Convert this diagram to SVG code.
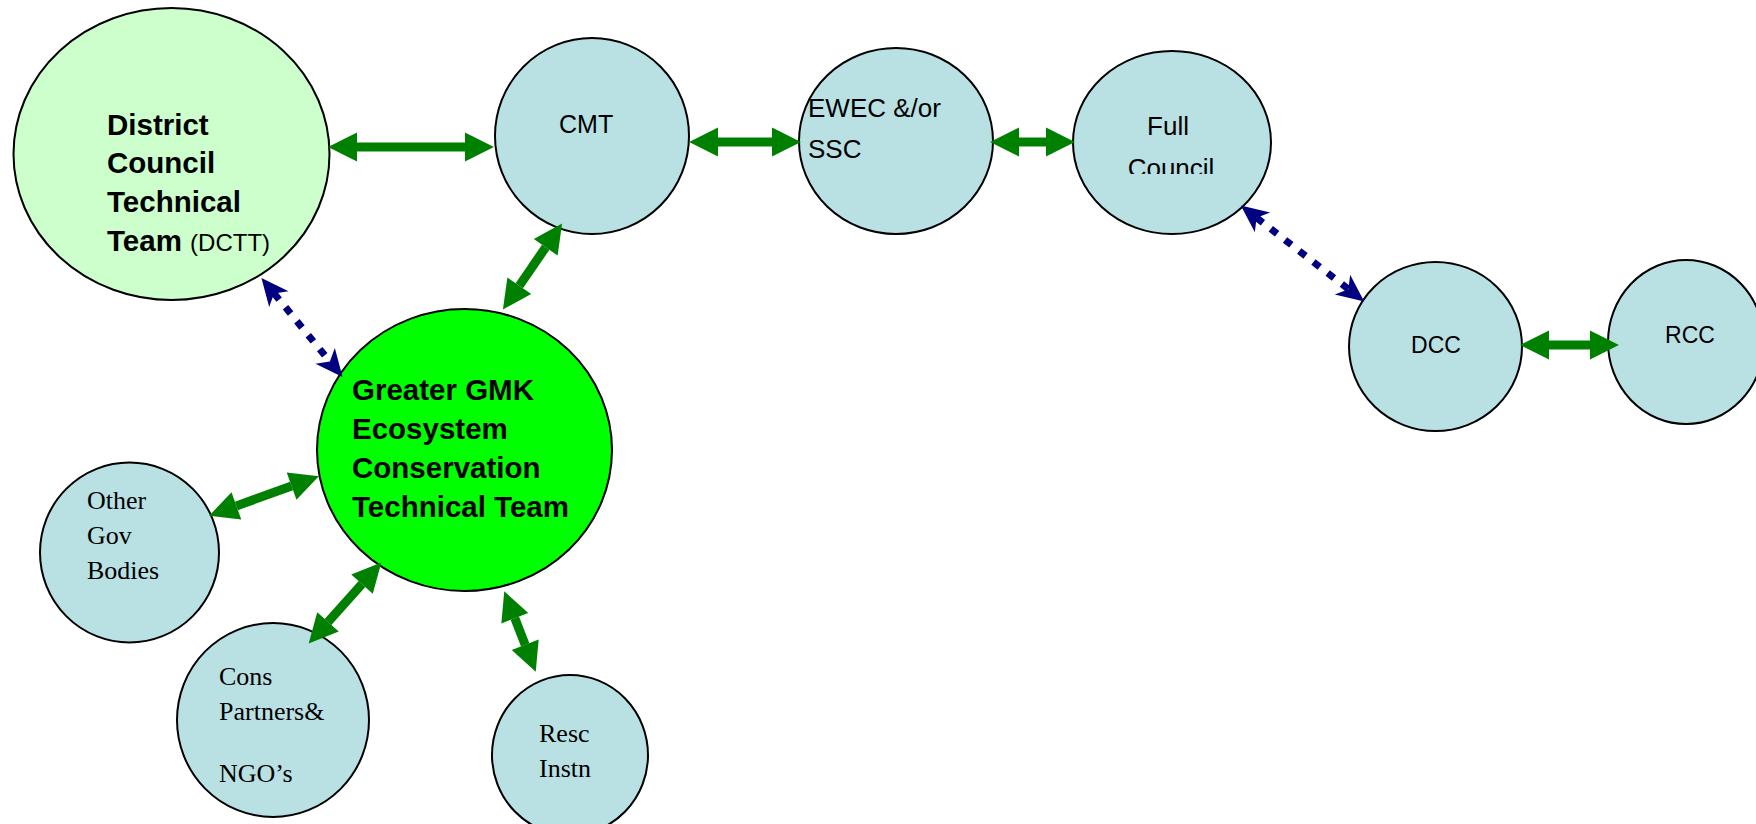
<svg xmlns="http://www.w3.org/2000/svg" width="1756" height="824" viewBox="0 0 1756 824">
<style>
.node{stroke:#000;stroke-width:2}
.blue{fill:#B9E0E3}
.sans{font-family:"Liberation Sans",Arial,sans-serif;fill:#000}
.bold{font-family:"Liberation Sans",Arial,sans-serif;font-weight:bold;font-size:29.5px;fill:#000}
.serif{font-family:"Liberation Serif","Times New Roman",serif;font-size:26px;fill:#000}
.garrow{stroke:#008000;stroke-width:9;fill:none;marker-start:url(#gh);marker-end:url(#gh)}
.narrow{stroke:#000080;stroke-width:7;fill:none;stroke-dasharray:8 10;marker-start:url(#nh);marker-end:url(#nh)}
</style>
<defs>
<marker id="gh" markerUnits="userSpaceOnUse" markerWidth="30" markerHeight="30" viewBox="0 -14 28 28" refX="0" refY="0" orient="auto-start-reverse" overflow="visible">
<path d="M0,-13.5 L27,0 L0,13.5 Z" fill="#008000"/>
</marker>
<marker id="nh" markerUnits="userSpaceOnUse" markerWidth="30" markerHeight="30" viewBox="0 -12 24 24" refX="6" refY="0" orient="auto-start-reverse" overflow="visible">
<path d="M0,-10 L22,0 L0,10 L6,0 Z" fill="#000080"/>
</marker>
<clipPath id="fcclip"><rect x="1060" y="40" width="220" height="134"/></clipPath>
</defs>
<rect width="1756" height="824" fill="#fff"/>

<g id="dctt">
<ellipse class="node" cx="171.5" cy="154" rx="158" ry="146" fill="#CCFFCC"/>
<text class="bold" x="107" y="135">District</text>
<text class="bold" x="107" y="173">Council</text>
<text class="bold" x="107" y="212">Technical</text>
<text class="bold" x="107" y="251">Team <tspan style="font-weight:normal;font-size:24px">(DCTT)</tspan></text>
</g>

<g id="cmt">
<ellipse class="node blue" cx="592" cy="136" rx="97" ry="98"/>
<text class="sans" x="559" y="133" font-size="25">CMT</text>
</g>

<g id="ewec">
<ellipse class="node blue" cx="896" cy="141" rx="97" ry="93"/>
<text class="sans" x="808" y="117" font-size="26">EWEC &amp;/or</text>
<text class="sans" x="808" y="158" font-size="26">SSC</text>
</g>

<g id="fullcouncil">
<ellipse class="node blue" cx="1172" cy="142.5" rx="99" ry="91.5"/>
<g clip-path="url(#fcclip)">
<text class="sans" x="1168" y="135" font-size="26" text-anchor="middle">Full</text>
<text class="sans" x="1171" y="177" font-size="26" text-anchor="middle">Council</text>
</g>
</g>

<g id="dcc">
<ellipse class="node blue" cx="1435.5" cy="346.5" rx="86.5" ry="84.5"/>
<text class="sans" x="1436" y="353" font-size="23" text-anchor="middle">DCC</text>
</g>

<g id="rcc">
<ellipse class="node blue" cx="1686" cy="342" rx="78" ry="82"/>
<text class="sans" x="1690" y="343" font-size="23" text-anchor="middle">RCC</text>
</g>

<g id="gmk">
<ellipse class="node" cx="464.5" cy="450" rx="147.5" ry="141" fill="#00FF00"/>
<text class="bold" x="352" y="400">Greater GMK</text>
<text class="bold" x="352" y="439">Ecosystem</text>
<text class="bold" x="352" y="478">Conservation</text>
<text class="bold" x="352" y="517">Technical Team</text>
</g>

<g id="othergov">
<ellipse class="node blue" cx="129.5" cy="552.5" rx="89.5" ry="90"/>
<text class="serif" x="87" y="509">Other</text>
<text class="serif" x="87" y="544">Gov</text>
<text class="serif" x="87" y="579">Bodies</text>
</g>

<g id="cons">
<ellipse class="node blue" cx="273" cy="720" rx="96" ry="97"/>
<text class="serif" x="219" y="685">Cons</text>
<text class="serif" x="219" y="720">Partners&amp;</text>
<text class="serif" x="219" y="782">NGO’s</text>
</g>

<g id="resc">
<ellipse class="node blue" cx="570" cy="755" rx="78" ry="80"/>
<text class="serif" x="539" y="742">Resc</text>
<text class="serif" x="539" y="777">Instn</text>
</g>

<g id="connectors">
<line class="garrow" x1="357" y1="147" x2="465" y2="147"/>
<line class="garrow" x1="718" y1="142" x2="772" y2="142"/>
<line class="garrow" x1="1019" y1="142" x2="1046" y2="142"/>
<line class="garrow" x1="1549" y1="345" x2="1590" y2="345"/>
<line class="garrow" x1="545.7" y1="247.3" x2="519.3" y2="285.7"/>
<line class="garrow" x1="291.6" y1="486.1" x2="236.4" y2="505.9"/>
<line class="garrow" x1="362" y1="584.1" x2="328" y2="621.9"/>
<line class="garrow" x1="514.8" y1="618.2" x2="525.2" y2="644.8"/>
<line class="narrow" x1="274.1" y1="293.4" x2="329.9" y2="361.6"/>
<line class="narrow" x1="1256.6" y1="217.8" x2="1348.4" y2="289.2"/>
</g>
</svg>
